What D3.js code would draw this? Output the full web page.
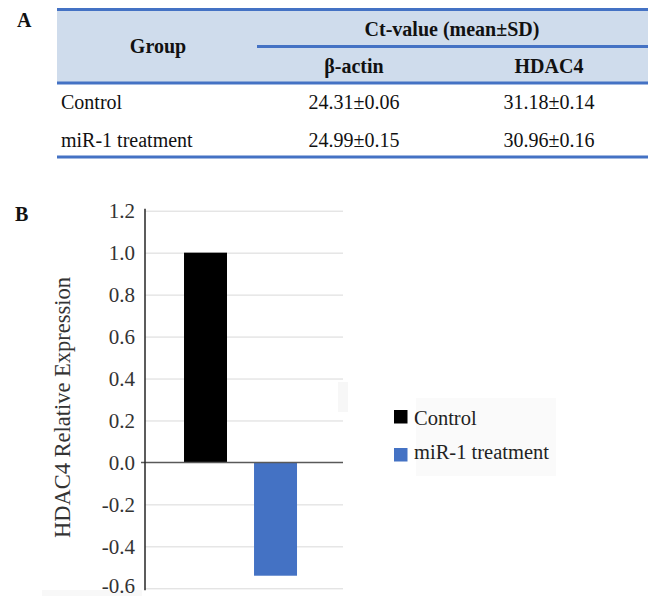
<!DOCTYPE html>
<html>
<head>
<meta charset="utf-8">
<script src="https://cdn.jsdelivr.net/npm/d3@7/dist/d3.min.js"></script>
<style>
  html, body { margin: 0; padding: 0; background: #ffffff; }
</style>
</head>
<body>
<svg id="chart" width="648" height="596"></svg>
<script>
// ---- data ----
const groups = ["Control", "miR-1 treatment"];
const betaActinCt = ["24.31±0.06", "24.99±0.15"];
const hdac4Ct = ["31.18±0.14", "30.96±0.16"];
const tableHeader = ["Group", "Ct-value (mean±SD)", "β-actin", "HDAC4"];
const expression = [1.0, -0.54];
const barColors = ["#000000", "#4472c4"];
const yTickValues = [1.2, 1.0, 0.8, 0.6, 0.4, 0.2, 0.0, -0.2, -0.4, -0.6];
const yTickLabels = ["1.2", "1.0", "0.8", "0.6", "0.4", "0.2", "0.0", "-0.2", "-0.4", "-0.6"];
const yTitle = "HDAC4 Relative Expression";

const FONT = "Liberation Serif";
const svg = d3.select("#chart").style("font-family", FONT);

function txt(parent, x, y, s, size, opts = {}) {
  return parent.append("text").attr("x", x).attr("y", y)
    .style("font-family", FONT).attr("font-size", size)
    .attr("font-weight", opts.bold ? "bold" : "normal")
    .attr("text-anchor", opts.anchor || "start")
    .attr("fill", opts.fill || "#111").text(s);
}

// ---- Panel A: table ----
const tblBlue = "#4472c4";
const tL = 57, tR = 648;
txt(svg, 17, 27, "A", 20, { bold: true });

svg.append("rect").attr("x", tL).attr("y", 9).attr("width", tR - tL).attr("height", 74)
  .attr("fill", "#cfdcec");
[[tL, 9.5], [257, 46.5], [tL, 83], [tL, 157]].forEach(([x1, yy]) => {
  svg.append("line").attr("x1", x1).attr("x2", tR).attr("y1", yy).attr("y2", yy)
    .attr("stroke", tblBlue).attr("stroke-width", 3);
});

const colCenters = [158, 452, 354, 549];
txt(svg, colCenters[0], 53, tableHeader[0], 20, { bold: true, anchor: "middle" });
txt(svg, colCenters[1], 36, tableHeader[1], 20, { bold: true, anchor: "middle" });
txt(svg, colCenters[2], 73, tableHeader[2], 20, { bold: true, anchor: "middle" });
txt(svg, colCenters[3], 73, tableHeader[3], 20, { bold: true, anchor: "middle" });

const rowY = [109, 146.5];
groups.forEach((g, i) => {
  txt(svg, 61, rowY[i], g, 20);
  txt(svg, colCenters[2], rowY[i], betaActinCt[i], 20, { anchor: "middle" });
  txt(svg, colCenters[3], rowY[i], hdac4Ct[i], 20, { anchor: "middle" });
});

// ---- Panel B: bar chart ----
txt(svg, 15, 221, "B", 20, { bold: true });

// faint background artifacts
svg.append("rect").attr("x", 338).attr("y", 382).attr("width", 10).attr("height", 30).attr("fill", "#f7f7f7");
svg.append("rect").attr("x", 416).attr("y", 398).attr("width", 140).attr("height", 78).attr("fill", "#fafafa");
svg.append("rect").attr("x", 42).attr("y", 590).attr("width", 100).attr("height", 6).attr("fill", "#f8f8f8");

const pL = 145, pR = 343;
const y = d3.scaleLinear().domain([-0.6, 1.2]).range([588.3, 210.7]);
const x = d3.scaleBand().domain(groups).range([pL, pR])
  .paddingInner(0.386).paddingOuter(0.607).align(0.459);

// gridlines
const grid = svg.append("g").attr("transform", `translate(${pL},0)`)
  .call(d3.axisLeft(y).tickValues(yTickValues.filter(v => v !== 0)).tickSize(-(pR - pL)).tickFormat(""));
grid.select(".domain").remove();
grid.selectAll("line").attr("stroke", "#d9d9d9").attr("stroke-width", 1);

// bars
svg.append("g").selectAll("rect").data(expression).join("rect")
  .attr("x", (d, i) => x(groups[i]))
  .attr("width", x.bandwidth())
  .attr("y", d => y(Math.max(0, d)))
  .attr("height", d => Math.abs(y(d) - y(0)))
  .attr("fill", (d, i) => barColors[i]);

// zero line
svg.append("line").attr("x1", 141).attr("x2", pR).attr("y1", y(0)).attr("y2", y(0))
  .attr("stroke", "#595959").attr("stroke-width", 1.5);

// y axis
const yAxis = svg.append("g").attr("transform", `translate(${pL},0)`)
  .call(d3.axisLeft(y).tickValues(yTickValues).tickSize(0).tickPadding(10)
    .tickFormat((d, i) => yTickLabels[i]));
yAxis.attr("font-family", null).style("font-family", FONT);
yAxis.select(".domain").attr("stroke", "#262626").attr("stroke-width", 1.5)
  .attr("d", `M0,${y(1.2) - 2}V${y(-0.6) + 2}`);
yAxis.selectAll("text").style("font-family", FONT)
  .attr("font-size", 21).attr("fill", "#333333")
  .attr("dy", d => d === -0.6 ? "0.2em" : "0.32em");

// y title
svg.append("text")
  .attr("transform", `translate(70,${(y(1.2) + y(-0.6)) / 2 + 8}) rotate(-90)`)
  .style("font-family", FONT)
  .attr("text-anchor", "middle").attr("font-size", 22.5).attr("fill", "#333333")
  .text(yTitle);

// legend
const legY = [[410, 424.5], [448, 459]];
groups.forEach((g, i) => {
  svg.append("rect").attr("x", 394).attr("y", legY[i][0]).attr("width", 13.5).attr("height", 13.5)
    .attr("fill", barColors[i]);
  txt(svg, 414, legY[i][1], g, 20.5, { fill: "#222222" });
});
</script>
</body>
</html>
